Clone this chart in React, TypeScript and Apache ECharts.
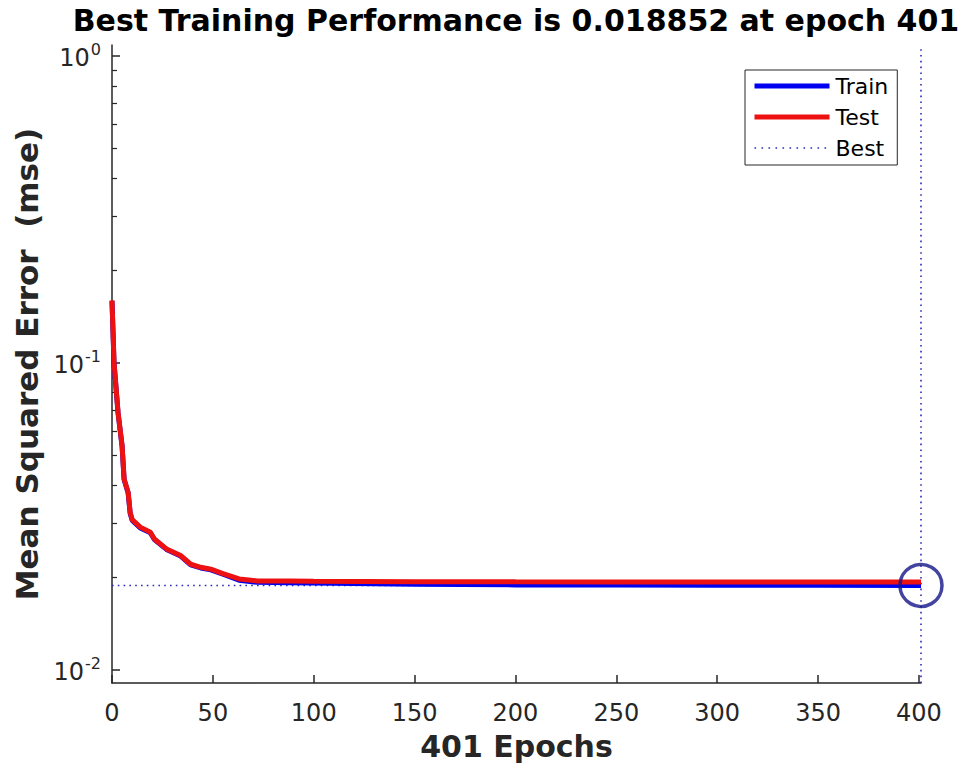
import React, { useEffect, useRef } from "react";
import * as echarts from "echarts";

const TITLE = "Best Training Performance is 0.018852 at epoch 401";
const X_NAME = "401 Epochs";
const Y_NAME = "Mean Squared Error  (mse)";

const X_MAX = 401;
const Y_MIN = 0.00907;
const Y_MAX = 1.086;
const BEST_EPOCH = 401;
const BEST_MSE = 0.018852;

const xTickValues = [0, 50, 100, 150, 200, 250, 300, 350, 400];
const yMajorTicks = [0.01, 0.1, 1];
const yMinorTicks = [0.02, 0.03, 0.04, 0.05, 0.06, 0.07, 0.08, 0.09, 0.2, 0.3, 0.4, 0.5, 0.6, 0.7, 0.8, 0.9];

const testEpochs = [0, 1, 3, 5, 6, 8, 9, 10, 14, 19, 21, 27, 34, 39, 44, 49, 55, 63, 72, 88, 100, 150, 200, 250, 300, 350, 401];
const testMse = [0.16, 0.1005, 0.069, 0.0538, 0.0419, 0.0379, 0.0326, 0.0309, 0.0292, 0.0281, 0.0267, 0.0248, 0.0236, 0.0221, 0.0216, 0.0213, 0.0206, 0.0198, 0.0195, 0.0195, 0.01945, 0.0194, 0.01937, 0.01935, 0.01935, 0.01934, 0.01933];

const trainEpochs = [0, 1, 3, 5, 6, 8, 9, 10, 14, 19, 21, 27, 34, 39, 44, 49, 55, 63, 72, 88, 100, 150, 200, 250, 300, 350, 401];
const trainMse = [0.159, 0.1, 0.0687, 0.0535, 0.0417, 0.0377, 0.0324, 0.0307, 0.029, 0.028, 0.0266, 0.0247, 0.0235, 0.022, 0.0215, 0.0212, 0.0205, 0.0196, 0.0193, 0.01925, 0.0192, 0.01902, 0.01893, 0.0189, 0.01888, 0.01887, 0.018852];

const FONT = "DejaVu Sans";
const AXIS_COLOR = "#262626";
const TRAIN_COLOR = "#0000f0";
const TEST_COLOR = "#ee1111";
const BEST_COLOR = "#2a2ab8";

export default function App() {
  const ref = useRef<HTMLDivElement>(null);

  useEffect(() => {
    if (!ref.current) return;
    const chart = echarts.init(ref.current, null, { renderer: "svg" });

    const testData = testEpochs.map((e, i) => [e, testMse[i]]);
    const trainData = trainEpochs.map((e, i) => [e, trainMse[i]]);

    const option: any = {
      animation: false,
      backgroundColor: "#ffffff",
      textStyle: { fontFamily: FONT },
      graphic: [
        {
          type: "text",
          x: 516,
          y: 20,
          style: {
            text: TITLE,
            fontFamily: FONT,
            fontSize: 30,
            fontWeight: "bold",
            fill: "#000000",
            textAlign: "center",
            textVerticalAlign: "middle",
          },
        },
      ],
      grid: { left: 112, right: 41, top: 45, bottom: 86, containLabel: false },
      legend: {
        orient: "vertical",
        left: 745,
        top: 70,
        padding: [5, 9, 6, 7],
        borderColor: AXIS_COLOR,
        borderWidth: 1,
        backgroundColor: "#ffffff",
        itemWidth: 75,
        itemHeight: 14,
        itemGap: 9,
        selectedMode: false,
        itemStyle: { opacity: 0, color: "rgba(0,0,0,0)", borderWidth: 0 },
        data: [
          { name: "Train", lineStyle: { width: 5, color: TRAIN_COLOR } },
          { name: "Test", lineStyle: { width: 5, color: TEST_COLOR } },
          { name: "Best", lineStyle: { width: 1.6, color: BEST_COLOR, type: [1.6, 5.4] } },
        ],
        textStyle: { fontFamily: FONT, fontSize: 22, lineHeight: 22, color: "#000000", padding: [0, 0, 0, 1] },
      },
      xAxis: {
        type: "value",
        min: 0,
        max: X_MAX,
        name: X_NAME,
        nameLocation: "middle",
        nameGap: 48,
        nameTextStyle: { fontFamily: FONT, fontSize: 30, fontWeight: "bold", color: AXIS_COLOR },
        axisLine: { show: true, lineStyle: { color: AXIS_COLOR, width: 1.5 } },
        axisTick: { show: true, inside: true, length: 8, customValues: xTickValues, lineStyle: { color: AXIS_COLOR, width: 1.5 } },
        axisLabel: { customValues: xTickValues, fontFamily: FONT, fontSize: 24, color: AXIS_COLOR, margin: 18 },
        splitLine: { show: false },
      },
      yAxis: [
        {
          type: "log",
          logBase: 10,
          min: Y_MIN,
          max: Y_MAX,
          name: Y_NAME,
          nameLocation: "middle",
          nameGap: 66,
          nameTextStyle: { fontFamily: FONT, fontSize: 31, fontWeight: "bold", color: AXIS_COLOR },
          axisLine: { show: true, lineStyle: { color: AXIS_COLOR, width: 1.5 } },
          axisTick: { show: true, inside: true, length: 8, customValues: yMajorTicks, lineStyle: { color: AXIS_COLOR, width: 1.5 } },
          axisLabel: {
            customValues: yMajorTicks,
            margin: 11,
            formatter: (v: number) => "{b|10}{s|" + Math.round(Math.log10(v)) + "}",
            rich: {
              b: { fontFamily: FONT, fontSize: 24, color: AXIS_COLOR, verticalAlign: "bottom" },
              s: { fontFamily: FONT, fontSize: 16, color: AXIS_COLOR, verticalAlign: "bottom", padding: [0, 0, 12, 1] },
            },
          },
          splitLine: { show: false },
        },
        {
          type: "log",
          logBase: 10,
          min: Y_MIN,
          max: Y_MAX,
          position: "left",
          axisLine: { show: false },
          axisTick: { show: true, inside: true, length: 5, customValues: yMinorTicks, lineStyle: { color: AXIS_COLOR, width: 1.2 } },
          axisLabel: { show: false },
          splitLine: { show: false },
        },
      ],
      series: [
        {
          name: "Train",
          type: "line",
          data: trainData,
          symbol: "none",
          lineStyle: { color: TRAIN_COLOR, width: 5 },
          itemStyle: { color: TRAIN_COLOR },
          z: 2,
        },
        {
          name: "Test",
          type: "line",
          data: testData,
          symbol: "none",
          lineStyle: { color: TEST_COLOR, width: 5 },
          itemStyle: { color: TEST_COLOR },
          z: 3,
        },
        {
          name: "Best",
          type: "line",
          data: [
            [0, BEST_MSE],
            [X_MAX, BEST_MSE],
          ],
          symbol: "none",
          clip: false,
          lineStyle: { color: BEST_COLOR, width: 1.6, type: [1.6, 4.2] },
          itemStyle: { color: BEST_COLOR },
          z: 1,
        },
        {
          name: "Best",
          type: "line",
          data: [
            [BEST_EPOCH, Y_MIN],
            [BEST_EPOCH, Y_MAX],
          ],
          symbol: "none",
          clip: false,
          lineStyle: { color: BEST_COLOR, width: 1.6, type: [1.6, 4.2] },
          itemStyle: { color: BEST_COLOR },
          z: 1,
        },
        {
          name: "BestPoint",
          type: "scatter",
          data: [[BEST_EPOCH, BEST_MSE]],
          symbol: "circle",
          symbolSize: 42,
          clip: false,
          itemStyle: { color: "rgba(0,0,0,0)", borderColor: "#141488", borderWidth: 3.5 },
          z: 5,
        },
      ],
    };

    chart.setOption(option);
    return () => chart.dispose();
  }, []);

  return (
    <div
      ref={ref}
      style={{ position: "absolute", left: 0, top: 0, width: 962, height: 769 }}
    />
  );
}
